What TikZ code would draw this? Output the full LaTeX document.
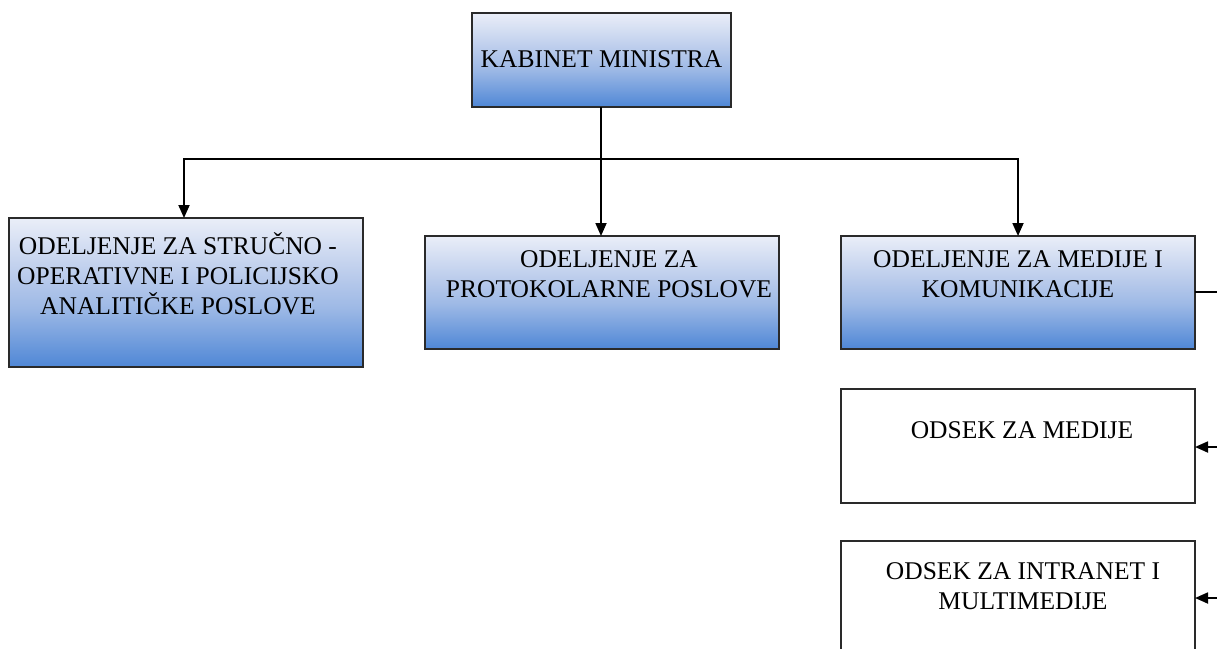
\documentclass[tikz,border=0pt]{standalone}
\usepackage{fontspec}
\setmainfont{Liberation Serif}
\usetikzlibrary{arrows.meta}
\definecolor{gtop}{HTML}{EAEEF8}
\definecolor{gmid}{HTML}{B8CAEB}
\definecolor{gbot}{HTML}{4F87D6}
\definecolor{edge}{HTML}{2A2A2A}
\pgfdeclareverticalshading{boxgrad}{100bp}{color(0bp)=(gbot); color(25bp)=(gbot); color(45bp)=(gmid!75!gbot); color(55bp)=(gmid); color(75bp)=(gtop); color(100bp)=(gtop)}
\begin{document}
\begin{tikzpicture}[x=1pt,y=-1pt,
  box/.style={draw=edge,line width=1.3pt,rectangle,inner sep=0pt},
  bluebox/.style={box,shading=boxgrad},
  whitebox/.style={box,fill=white},
  lbl/.style={align=center,font=\fontsize{25.5}{30}\selectfont,inner sep=0pt,anchor=north},
  conn/.style={line width=1.8pt,draw=black},
  arr/.style={conn,-{Triangle[length=13pt,width=11pt]}}]
\useasboundingbox (0,0) rectangle (1217,648);
\fill[white] (0,0) rectangle (1217,648);
% boxes
\path[bluebox] (472,13) rectangle (731,107);
\coordinate (kabS) at (601,107);
\node[lbl,anchor=center] (kabt) at (601.5,59) {KABINET MINISTRA};

\path[bluebox] (9,218) rectangle (363,367);
\coordinate (b1N) at (184,218);
\node[lbl] (b1t) at (178,232) {ODELJENJE ZA STRUČNO -\\OPERATIVNE I POLICIJSKO\\ANALITIČKE POSLOVE};

\path[bluebox] (425,236) rectangle (779,349);
\coordinate (b2N) at (601,236);
\node[lbl] (b2t) at (609,250) {ODELJENJE ZA\\PROTOKOLARNE POSLOVE};

\path[bluebox] (841,236) rectangle (1195,349);
\coordinate (b3N) at (1018,236);
\coordinate (b3E) at (1195,292);
\node[lbl] (b3t) at (1018,250) {ODELJENJE ZA MEDIJE I\\KOMUNIKACIJE};

\path[whitebox] (841,389) rectangle (1195,503);
\coordinate (b4E) at (1195,447);
\node[lbl] (b4t) at (1022,421) {ODSEK ZA MEDIJE};

\path[whitebox] (841,541) rectangle (1195,660);
\coordinate (b5E) at (1195,598);
\node[lbl] (b5t) at (1023,562) {ODSEK ZA INTRANET I\\MULTIMEDIJE};

% connectors
\coordinate (hub) at (601,159);
\coordinate (r3) at (1218,292);
\coordinate (r4) at (1218,447);
\coordinate (r5) at (1218,598);
\draw[conn] (kabS) -- (hub);
\draw[arr] (hub) -| (b1N);
\draw[arr] (hub) -- (b2N);
\draw[arr] (hub) -| (b3N);
\draw[conn] (b3E) -- (r3);
\draw[arr] (r4) -- (b4E);
\draw[arr] (r5) -- (b5E);
\end{tikzpicture}
\end{document}
